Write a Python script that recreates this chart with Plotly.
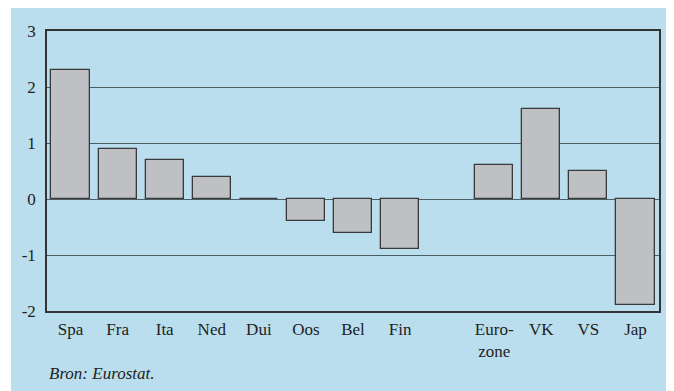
import plotly.graph_objects as go

categories = ["Spa", "Fra", "Ita", "Ned", "Dui", "Oos", "Bel", "Fin", " ", "Euro-<br>zone", "VK", "VS", "Jap"]
values = [2.3, 0.9, 0.7, 0.4, 0.0, -0.4, -0.6, -0.9, None, 0.6, 1.6, 0.5, -1.9]
y_ticks = [-2, -1, 0, 1, 2, 3]
source_text = "Bron: Eurostat."

BLUE = "#badeed"
FONT = "'Liberation Serif', 'Times New Roman', serif"
OFF = 8  # page body margin
W, H = 674 - OFF, 391 - OFF
L, T = 47 - OFF, 31 - OFF
R = W - (659 - OFF)
B = H - (311 - OFF)

fig = go.Figure()
fig.add_trace(go.Bar(
    x=categories, y=values, width=0.81,
    marker=dict(color="#bfc0c4", line=dict(color="#3a3a3a", width=1.3)),
    hoverinfo="skip",
))

pw = W - L - R
ph = H - T - B
def px_x(p):
    return (p - OFF - L) / pw
def px_y(p):
    return 1 - (p - OFF - T) / ph

fig.update_layout(
    width=W, height=H,
    margin=dict(l=L, r=R, t=T, b=B, pad=0),
    paper_bgcolor=BLUE, plot_bgcolor=BLUE,
    showlegend=False,
    bargap=0,
    font=dict(family=FONT, size=17, color="#222"),
    xaxis=dict(
        type="category", categoryorder="array", categoryarray=categories,
        range=[-0.5, len(categories) - 0.5],
        showgrid=False, zeroline=False, ticks="outside", ticklen=2, tickcolor="rgba(0,0,0,0)",
        showline=True, linecolor="#333", linewidth=1.5, mirror=True,
        tickfont=dict(family=FONT, size=17), fixedrange=True,
    ),
    yaxis=dict(
        range=[-2, 3], tickvals=y_ticks, ticktext=[str(v) for v in y_ticks],
        showgrid=True, gridcolor="#4d5d64", gridwidth=1.2,
        zeroline=True, zerolinecolor="#4d5d64", zerolinewidth=1.2,
        showline=True, linecolor="#333", linewidth=1.5, mirror=True,
        ticks="outside", ticklen=6, tickcolor="rgba(0,0,0,0)",
        tickfont=dict(family=FONT, size=17), fixedrange=True,
    ),
    shapes=[
        dict(type="rect", xref="paper", yref="paper", layer="below",
             x0=px_x(0), x1=px_x(11), y0=px_y(0), y1=px_y(H + OFF + 5),
             fillcolor="white", line=dict(width=0)),
    ],
    annotations=[
        dict(text="<i>" + source_text + "</i>", xref="paper", yref="paper",
             x=px_x(47), y=px_y(373), xanchor="left", yanchor="middle",
             showarrow=False, font=dict(family=FONT, size=17, color="#222")),
    ],
)

fig.write_html("out.html")
